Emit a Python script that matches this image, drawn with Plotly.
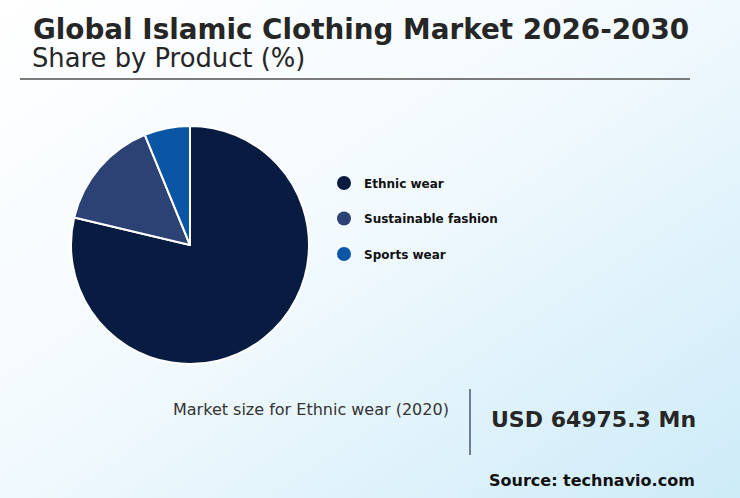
import base64
import plotly.graph_objects as go

categories = ["Ethnic wear", "Sustainable fashion", "Sports wear"]
shares = [78.7, 15.1, 6.2]
colors = ["#081c42", "#2c4275", "#0a55a4"]
title_text = "Global Islamic Clothing Market 2026-2030"
subtitle_text = "Share by Product (%)"
kpi_label = "Market size for Ethnic wear (2020)"
kpi_value = "USD 64975.3 Mn"
source_text = "Source: technavio.com"

W, H = 740, 498
def px(x):
    return x / W
def py(y):
    return 1 - y / H

svg = f'''<svg xmlns="http://www.w3.org/2000/svg" width="{W}" height="{H}" viewBox="0 0 {W} {H}" preserveAspectRatio="none">
<defs><linearGradient id="g" x1="0" y1="0" x2="1" y2="1">
<stop offset="0" stop-color="#ffffff"/><stop offset="0.45" stop-color="#f3fafe"/>
<stop offset="1" stop-color="#cdebf8"/></linearGradient></defs>
<rect width="{W}" height="{H}" fill="url(#g)"/></svg>'''
bg = "data:image/svg+xml;base64," + base64.b64encode(svg.encode()).decode()

fig = go.Figure()
cx, cy, r = 190, 245, 119
fig.add_trace(go.Pie(
    labels=categories, values=shares, sort=False, direction="clockwise", rotation=0,
    marker=dict(colors=colors, line=dict(color="white", width=2)),
    textinfo="none", hoverinfo="label+percent", showlegend=False,
    domain=dict(x=[px(cx - r), px(cx + r)], y=[py(cy + r), py(cy - r)]),
))
for i, (c, col) in enumerate(zip(categories, colors)):
    fig.add_trace(go.Scatter(
        x=[None], y=[None], mode="markers", name=f"<b>{c}</b>", legendgroup=f"g{i}",
        marker=dict(symbol="circle", size=14, color=col), showlegend=True,
    ))

fig.update_layout(
    width=W, height=H, margin=dict(l=0, r=0, t=0, b=0),
    paper_bgcolor="white", plot_bgcolor="rgba(0,0,0,0)",
    xaxis=dict(visible=False), yaxis=dict(visible=False),
    font=dict(family="DejaVu Sans", color="#222222"),
    legend=dict(x=px(324), y=py(168.5), xanchor="left", yanchor="top",
                font=dict(size=12, color="#111111", family="DejaVu Sans"),
                tracegroupgap=16.5, itemwidth=30, bgcolor="rgba(0,0,0,0)"),
    images=[dict(source=bg, xref="paper", yref="paper", x=0, y=1, sizex=1, sizey=1,
                 xanchor="left", yanchor="top", sizing="stretch", layer="below")],
    shapes=[
        dict(type="line", xref="paper", yref="paper", x0=px(20), x1=px(690), y0=py(79), y1=py(79),
             line=dict(color="#7a7a7a", width=2)),
        dict(type="line", xref="paper", yref="paper", x0=px(470), x1=px(470), y0=py(389), y1=py(455),
             line=dict(color="#6f7f90", width=2)),
    ],
    annotations=[
        dict(text=f"<b>{title_text}</b>", x=px(30.5), y=py(30), xref="paper", yref="paper",
             xanchor="left", yanchor="middle", showarrow=False,
             font=dict(size=27.8, color="#262626", family="DejaVu Sans")),
        dict(text=subtitle_text, x=px(30), y=py(58), xref="paper", yref="paper",
             xanchor="left", yanchor="middle", showarrow=False,
             font=dict(size=25.8, color="#262626", family="DejaVu Sans")),
        dict(text=kpi_label, x=px(451), y=py(409), xref="paper", yref="paper",
             xanchor="right", yanchor="middle", showarrow=False,
             font=dict(size=16, color="#333333", family="DejaVu Sans")),
        dict(text=f"<b>{kpi_value}</b>", x=px(489), y=py(419), xref="paper", yref="paper",
             xanchor="left", yanchor="middle", showarrow=False,
             font=dict(size=22, color="#262626", family="DejaVu Sans")),
        dict(text=f"<b>{source_text}</b>", x=px(697), y=py(480), xref="paper", yref="paper",
             xanchor="right", yanchor="middle", showarrow=False,
             font=dict(size=16, color="#111111", family="DejaVu Sans")),
    ],
)
fig.write_html("out.html", config={"displayModeBar": False},
               post_script="document.body.style.margin='0';document.body.style.overflow='hidden';")
